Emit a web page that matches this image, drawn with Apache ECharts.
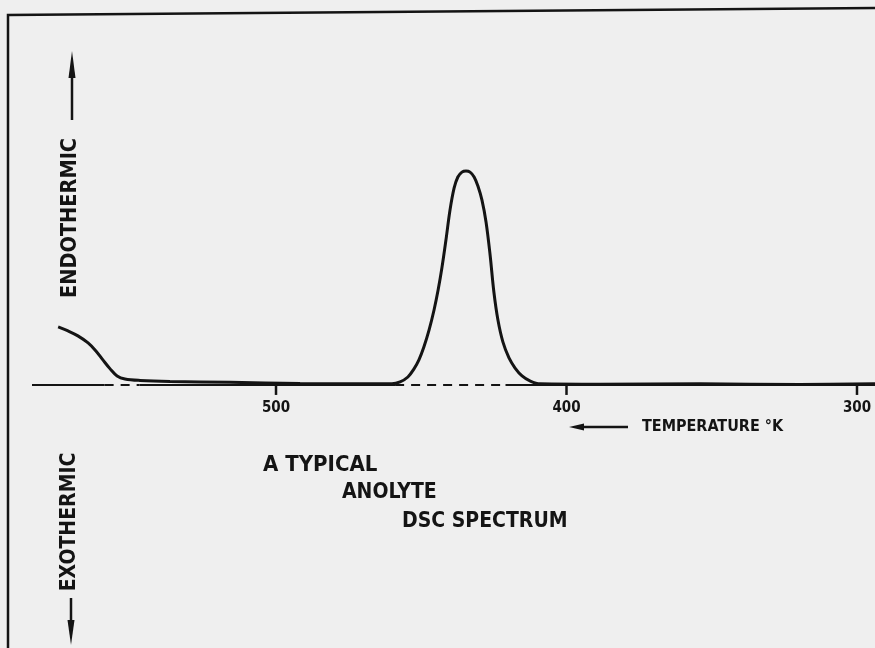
<!DOCTYPE html>
<html>
<head>
<meta charset="utf-8">
<script src="https://cdn.jsdelivr.net/npm/echarts@6/dist/echarts.min.js"></script>
<style>
  html, body { margin: 0; padding: 0; background: #efefef; }
  #chart { width: 875px; height: 648px; }
</style>
</head>
<body>
<div id="chart"></div>
<script>
// temperature (K, axis runs hot -> cold) and heat-flow signal (arbitrary units, endotherm up)
const curveTemp = [
  575.0, 571.6, 568.2, 564.7, 562.0, 559.6, 557.1, 554.7, 552.0, 546.8,
  536.5, 515.8, 491.7, 471.1,
  460.1, 457.3, 454.6, 452.5, 450.8, 449.1, 447.3, 445.6, 444.2, 442.9,
  441.5, 440.1, 438.7, 437.4, 436.0, 434.6, 433.2, 431.8, 430.5, 429.1,
  427.7, 426.3, 425.0, 423.6, 421.9, 419.8, 417.7, 415.3, 412.6, 409.1,
  388.5, 354.0, 319.6, 293.8
]
const curveSignal = [
  27.1, 25.2, 22.9, 19.6, 15.9, 11.7, 7.5, 4.2, 2.8, 2.1,
  1.6, 1.2, 0.7, 0.5,
  0.5, 1.4, 3.7, 7.5, 11.7, 17.7, 25.7, 35.0, 44.3, 54.6,
  67.7, 81.7, 91.9, 97.1, 99.4, 99.9, 99.4, 97.1, 92.9, 86.3,
  76.1, 60.7, 43.4, 30.3, 20.1, 12.6, 7.9, 4.2, 1.9, 0.5,
  0.3, 0.5, 0.2, 0.5
]
const tickValues = [500, 400, 300]
// zero line: drawn solid except where dashed under the two peaks
const solidSpans = [[584, 559], [547, 459], [421, 293.8]]
const dashedSpans = [[559, 547], [459, 421]]

const font = "'DejaVu Sans Condensed', 'Liberation Sans Narrow', 'DejaVu Sans', sans-serif"
const ink = '#141414'

const chart = echarts.init(document.getElementById('chart'))

const baseSegments = []
solidSpans.forEach(s => baseSegments.push([
  { coord: [s[0], 0], lineStyle: { type: 'solid' } }, { coord: [s[1], 0] }
]))
dashedSpans.forEach(s => baseSegments.push([
  { coord: [s[0], 0], lineStyle: { type: [9, 7] } }, { coord: [s[1], 0] }
]))

const option = {
  backgroundColor: '#efefef',
  animation: false,
  grid: { left: 32, right: 0, top: 128, height: 264 },
  xAxis: {
    type: 'value',
    inverse: true,
    min: 293.8,
    max: 584,
    // the visible zero line is drawn by the baseline series (it has dashed gaps)
    axisLine: { show: false },
    splitLine: { show: false },
    axisTick: { show: false },
    axisLabel: {
      customValues: tickValues,
      margin: 9,
      color: ink,
      fontFamily: font,
      fontWeight: 'bold',
      fontSize: 15
    }
  },
  yAxis: {
    type: 'value',
    min: -3.3,
    max: 120,
    show: false
  },
  series: [
    {
      name: 'baseline',
      type: 'line',
      data: [],
      silent: true,
      markLine: {
        silent: true,
        symbol: 'none',
        label: { show: false },
        lineStyle: { color: ink, width: 2 },
        data: baseSegments
      }
    },
    {
      // tick marks hanging below the zero line
      name: 'ticks',
      type: 'custom',
      silent: true,
      clip: false,
      z: 5,
      data: tickValues.map(t => [t, 0]),
      renderItem: (params, api) => {
        const p = api.coord([api.value(0), api.value(1)])
        return {
          type: 'line',
          shape: { x1: p[0], y1: p[1] - 1, x2: p[0], y2: p[1] + 10 },
          style: { stroke: ink, lineWidth: 2.5 }
        }
      }
    },
    {
      name: 'DSC',
      type: 'line',
      data: curveTemp.map((t, i) => [t, curveSignal[i]]),
      showSymbol: false,
      smooth: 0.35,
      lineStyle: { color: ink, width: 3 }
    }
  ],
  graphic: [
    // page frame
    { type: 'polyline', shape: { points: [[8, 648], [8, 15], [875, 8]] },
      style: { stroke: ink, lineWidth: 2.5, fill: null } },
    // endothermic arrow
    { type: 'line', shape: { x1: 72, y1: 120, x2: 72, y2: 70 }, style: { stroke: ink, lineWidth: 2.5 } },
    { type: 'polygon', shape: { points: [[72, 51], [75.5, 78], [68.5, 78]] }, style: { fill: ink } },
    { type: 'text', x: 70, y: 218, rotation: Math.PI / 2,
      style: { text: 'ENDOTHERMIC', fill: ink, font: 'bold 21.5px ' + font, align: 'center', verticalAlign: 'middle' } },
    // exothermic arrow
    { type: 'text', x: 70, y: 522, rotation: Math.PI / 2,
      style: { text: 'EXOTHERMIC', fill: ink, font: 'bold 21px ' + font, align: 'center', verticalAlign: 'middle' } },
    { type: 'line', shape: { x1: 71, y1: 598, x2: 71, y2: 625 }, style: { stroke: ink, lineWidth: 2.5 } },
    { type: 'polygon', shape: { points: [[71, 645], [74.5, 620], [67.5, 620]] }, style: { fill: ink } },
    // temperature direction
    { type: 'line', shape: { x1: 628, y1: 427, x2: 580, y2: 427 }, style: { stroke: ink, lineWidth: 2.5 } },
    { type: 'polygon', shape: { points: [[569, 427], [584, 423.5], [584, 430.5]] }, style: { fill: ink } },
    { type: 'text', x: 642, y: 427,
      style: { text: 'TEMPERATURE °K', fill: ink, font: 'bold 16px ' + font, align: 'left', verticalAlign: 'middle' } },
    // caption
    { type: 'text', x: 263, y: 465,
      style: { text: 'A TYPICAL', fill: ink, font: 'bold 22px ' + font, align: 'left', verticalAlign: 'middle' } },
    { type: 'text', x: 342, y: 493,
      style: { text: 'ANOLYTE', fill: ink, font: 'bold 21px ' + font, align: 'left', verticalAlign: 'middle' } },
    { type: 'text', x: 402, y: 522,
      style: { text: 'DSC SPECTRUM', fill: ink, font: 'bold 21px ' + font, align: 'left', verticalAlign: 'middle' } }
  ]
}

chart.setOption(option)
</script>
</body>
</html>
